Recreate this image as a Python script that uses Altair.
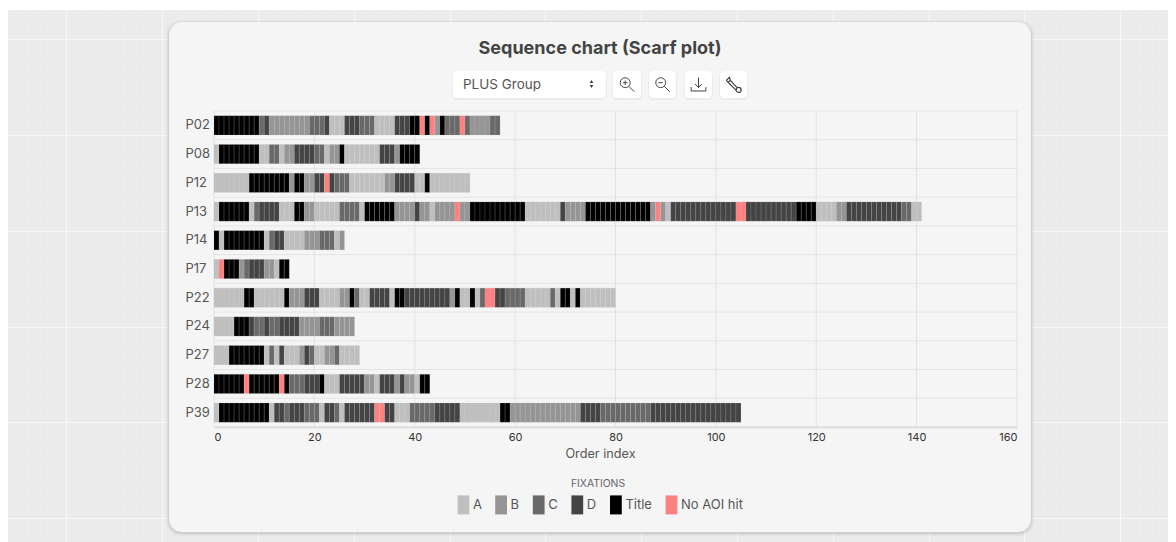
import altair as alt
import pandas as pd

# ---- values -----------------------------------------------------------
participants = ["P02", "P08", "P12", "P13", "P14", "P17", "P22", "P24", "P27", "P28", "P39"]
aoi_names = ["A", "B", "C", "D", "Title", "No AOI hit"]
aoi_colors = ["#bfbfbf", "#959595", "#696969", "#444444", "#000000", "#ff8080"]
x_ticks = [0, 20, 40, 60, 80, 100, 120, 140, 160]

# N stands for "No AOI hit", T for "Title"
P02_aoi = list("TCDBCDADCADTNTNBTCNCBC")
P02_len = [9, 1, 1, 8, 3, 1, 3, 3, 3, 4, 3, 2, 1, 1, 1, 1, 1, 3, 1, 1, 4, 2]
P08_aoi = list("ATACABDCABTADBT")
P08_len = [1, 8, 2, 2, 1, 2, 4, 2, 1, 2, 1, 7, 3, 1, 4]
P12_aoi = list("ATBTBDNDCABDATA")
P12_len = [7, 8, 1, 2, 2, 2, 1, 1, 3, 7, 2, 4, 2, 1, 8]
P13_aoi = list("ATACDATBACATBDBABNBTADBTBNBADNDTABDCA")
P13_len = [1, 6, 1, 1, 4, 3, 2, 2, 5, 4, 1, 6, 4, 1, 2, 1, 4, 1, 2, 11, 7, 1, 4, 13, 1, 1, 1, 1, 13, 2, 10, 4, 4, 2, 11, 2, 2]
P14_aoi = list("TATACDABCAB")
P14_len = [1, 1, 8, 1, 1, 2, 4, 3, 3, 1, 1]
P17_aoi = list("ANTBCDBAT")
P17_len = [1, 1, 3, 1, 1, 3, 2, 1, 2]
P22_aoi = list("ATATBDABTCADATDBTATACNDCACATATA")
P22_len = [6, 2, 6, 1, 3, 3, 4, 2, 1, 1, 2, 4, 1, 2, 9, 1, 1, 2, 1, 1, 1, 2, 2, 4, 5, 1, 1, 2, 1, 1, 7]
P24_aoi = list("ATDCDCDBCB")
P24_len = [4, 3, 1, 2, 1, 2, 4, 4, 3, 4]
P27_aoi = list("ATACADABDCABCA")
P27_len = [3, 7, 1, 1, 1, 1, 3, 1, 1, 1, 2, 2, 1, 4]
P28_aoi = list("TNTNTCDTADBADBDBAT")
P28_len = [6, 1, 6, 1, 1, 3, 3, 1, 3, 5, 2, 1, 3, 1, 1, 2, 1, 2]
P39_aoi = list("ATADCDCADCADNDACDATBDCD")
P39_len = [1, 10, 1, 2, 1, 3, 3, 1, 2, 1, 1, 6, 2, 2, 3, 5, 5, 8, 2, 14, 4, 10, 18]

runs = {
    "P02": (P02_aoi, P02_len), "P08": (P08_aoi, P08_len), "P12": (P12_aoi, P12_len),
    "P13": (P13_aoi, P13_len), "P14": (P14_aoi, P14_len), "P17": (P17_aoi, P17_len),
    "P22": (P22_aoi, P22_len), "P24": (P24_aoi, P24_len), "P27": (P27_aoi, P27_len),
    "P28": (P28_aoi, P28_len), "P39": (P39_aoi, P39_len),
}
full = {"A": "A", "B": "B", "C": "C", "D": "D", "T": "Title", "N": "No AOI hit"}
rows = []
for p, (aois, lens) in runs.items():
    i = 0
    for a, n in zip(aois, lens):
        for _ in range(n):
            rows.append({"participant": p, "start": i, "end": i + 1, "aoi": full[a]})
            i += 1
df = pd.DataFrame(rows)

# ---- layout ------------------------------------------------------------
PLOT_L, PLOT_T, PLOT_W, PLOT_H = 214, 111, 803, 316
CANVAS_R, CANVAS_B = 1168, 542
STEP = PLOT_H / len(participants)
FONT = "Inter"
one = pd.DataFrame({"k": [0]})


def px(v):
    return v - PLOT_L


def py(v):
    return v - PLOT_T


def box(x0, y0, x1, y1, fill, radius=0, opacity=1.0):
    return alt.Chart(one).mark_rect(fill=fill, cornerRadius=radius, opacity=opacity).encode(
        x=alt.value(px(x0)), x2=alt.value(px(x1)), y=alt.value(py(y0)), y2=alt.value(py(y1)))


def vline(x, color):
    return alt.Chart(one).mark_rule(color=color, strokeWidth=1).encode(
        x=alt.value(px(x)), y=alt.value(py(8)), y2=alt.value(py(542)))


def hline(y, color):
    return alt.Chart(one).mark_rule(color=color, strokeWidth=1).encode(
        y=alt.value(py(y)), x=alt.value(px(8)), x2=alt.value(px(1176)))


def label(txt, x, y, size, color, weight="normal", align="center"):
    return alt.Chart(one).mark_text(text=txt, fontSize=size, color=color, font=FONT,
                                    fontWeight=weight, align=align, baseline="middle").encode(
        x=alt.value(px(x)), y=alt.value(py(y)))


def icon(path, x, y, size, width=1.0):
    return alt.Chart(one).mark_point(shape=path, size=size, filled=False, stroke="#444444",
                                     strokeWidth=width, opacity=1).encode(
        x=alt.value(px(x)), y=alt.value(py(y)))


x_scale = alt.Scale(domain=[0, 160], nice=False)
y_scale = alt.Scale(paddingInner=0.33, paddingOuter=0.165)
x_axis = alt.Axis(values=x_ticks, grid=False, ticks=False, domain=True, domainColor="#dddddd",
                  domainWidth=2, labelFlush=True, labelFont=FONT, labelFontSize=11,
                  labelColor="#333333", labelPadding=4, title="Order index", titleFont=FONT,
                  titleFontSize=12.7, titleFontWeight="normal", titleColor="#555555",
                  titlePadding=5, titleX=px(600), titleAnchor="middle", titleAlign="center", zindex=1)
y_axis = alt.Axis(title=None, ticks=False, domain=False, grid=False, labelFont=FONT,
                  labelFontSize=13, labelColor="#555555", labelPadding=29, labelAlign="left", zindex=1)

layers = []
# page grid
MINOR = 19.16
for i in range(0, 62):
    x = 9 + i * MINOR
    major = (i - 3) % 5 == 0
    layers.append(vline(round(x) + 0.5, "#f7f7f7" if major else "#eeeeee"))
for j in range(0, 29):
    y = 20 + j * MINOR
    major = (j - 1) % 5 == 0
    layers.append(hline(round(y) + 0.5, "#f7f7f7" if major else "#eeeeee"))
layers.append(box(8, 8, 1176, 10, "#ffffff"))

# card with soft shadow
for grow, op in [(3, 0.025), (2, 0.035), (1, 0.06)]:
    layers.append(box(169 - grow, 22 - grow + 1, 1031 + grow, 532 + grow + 1, "#000000", 14, op))
layers.append(box(169, 22, 1031, 532, "#f5f5f5", 13))

# title and controls
layers.append(label("Sequence chart (Scarf plot)", 600, 49, 18, "#444444", "bold"))
for (x0, x1) in [(453, 606), (613, 641), (649, 676), (685, 712), (720, 747)]:
    y0, y1 = 71, 98
    layers.append(box(x0 - 1, y0, x1 + 1, y1 + 2, "#000000", 5, 0.04))
    layers.append(box(x0, y0, x1, y1, "#ffffff", 4))
layers.append(label("PLUS Group", 463, 85, 13.5, "#555555", align="left"))
layers.append(alt.Chart(one).mark_point(shape="triangle-up", size=14, filled=True, color="#444444", opacity=1)
              .encode(x=alt.value(px(591.5)), y=alt.value(py(81.5))))
layers.append(alt.Chart(one).mark_point(shape="triangle-down", size=14, filled=True, color="#444444", opacity=1)
              .encode(x=alt.value(px(591.5)), y=alt.value(py(86.5))))

lens = "M0.35,-0.2 A0.55,0.55 0 1 1 -0.75,-0.2 A0.55,0.55 0 1 1 0.35,-0.2 Z M0.2,0.2 L0.8,0.8"
layers.append(icon(lens + " M-0.45,-0.2 L0.05,-0.2 M-0.2,-0.45 L-0.2,0.05", 627, 84.5, 324))
layers.append(icon(lens + " M-0.45,-0.2 L0.05,-0.2", 662.5, 84.5, 324))
layers.append(icon("M0,-0.8 L0,0.35 M-0.4,-0.05 L0,0.35 L0.4,-0.05 M-0.85,0.3 L-0.85,0.75 L0.85,0.75 L0.85,0.3",
                   698.5, 84.5, 300))
layers.append(icon("M-0.8,-0.45 L-0.45,-0.8 L-0.35,-0.45 L-0.6,-0.25 L-0.8,-0.45 M-0.35,-0.45 L0.45,0.4 "
                   "M-0.6,-0.25 L0.25,0.6 "
                   "M0.85,0.6 A0.28,0.28 0 1 1 0.29,0.6 A0.28,0.28 0 1 1 0.85,0.6 Z", 733.5, 84.5, 324, 1.2))

# plot grid
layers.append(alt.Chart(pd.DataFrame({"t": x_ticks})).mark_rule(color="#e2e2e2", strokeWidth=1).encode(
    x=alt.X("t:Q", scale=x_scale, axis=x_axis)))
layers.append(alt.Chart(pd.DataFrame({"participant": participants})).mark_rule(
    color="#e4e4e4", strokeWidth=1, yOffset=STEP / 2).encode(
    y=alt.Y("participant:N", sort=participants, scale=y_scale, axis=y_axis)))
layers.append(alt.Chart(pd.DataFrame({"participant": participants[:1]})).mark_rule(
    color="#e4e4e4", strokeWidth=1, yOffset=-STEP / 2).encode(
    y=alt.Y("participant:N", sort=participants, scale=y_scale, axis=y_axis)))

# scarf bars
bars = alt.Chart(df).mark_rect(stroke="#d0d0d0", strokeWidth=0.3, strokeOpacity=0.5).encode(
    x=alt.X("start:Q", scale=x_scale, axis=x_axis),
    x2="end:Q",
    y=alt.Y("participant:N", sort=participants, scale=y_scale, axis=y_axis),
    color=alt.Color("aoi:N",
                    scale=alt.Scale(domain=aoi_names, range=aoi_colors),
                    legend=alt.Legend(orient="none", legendX=240, legendY=368, direction="horizontal",
                                      columns=6, title="FIXATIONS", titleAnchor="middle",
                                      titleFont=FONT, titleFontSize=10.4, titleFontWeight="normal",
                                      titleColor="#666666", titlePadding=6, labelFont=FONT,
                                      labelFontSize=13, labelColor="#555555", labelOffset=0,
                                      columnPadding=9.6, symbolSize=361, symbolOpacity=1,
                                      symbolStrokeWidth=0,
                                      symbolType="M-0.62,-1 L0.62,-1 L0.62,1 L-0.62,1 Z")),
)
layers.append(bars)

chart = alt.layer(*layers).properties(
    width=PLOT_W, height=PLOT_H, background="#ebebeb",
    padding={"left": PLOT_L - 8, "top": PLOT_T - 8, "right": CANVAS_R - PLOT_L - PLOT_W,
             "bottom": CANVAS_B - 8 - PLOT_T - PLOT_H + 8},
    autosize=alt.AutoSizeParams(type="none"),
).configure_view(stroke=None)

chart.save("out.html", embed_options={"renderer": "svg", "actions": False})
